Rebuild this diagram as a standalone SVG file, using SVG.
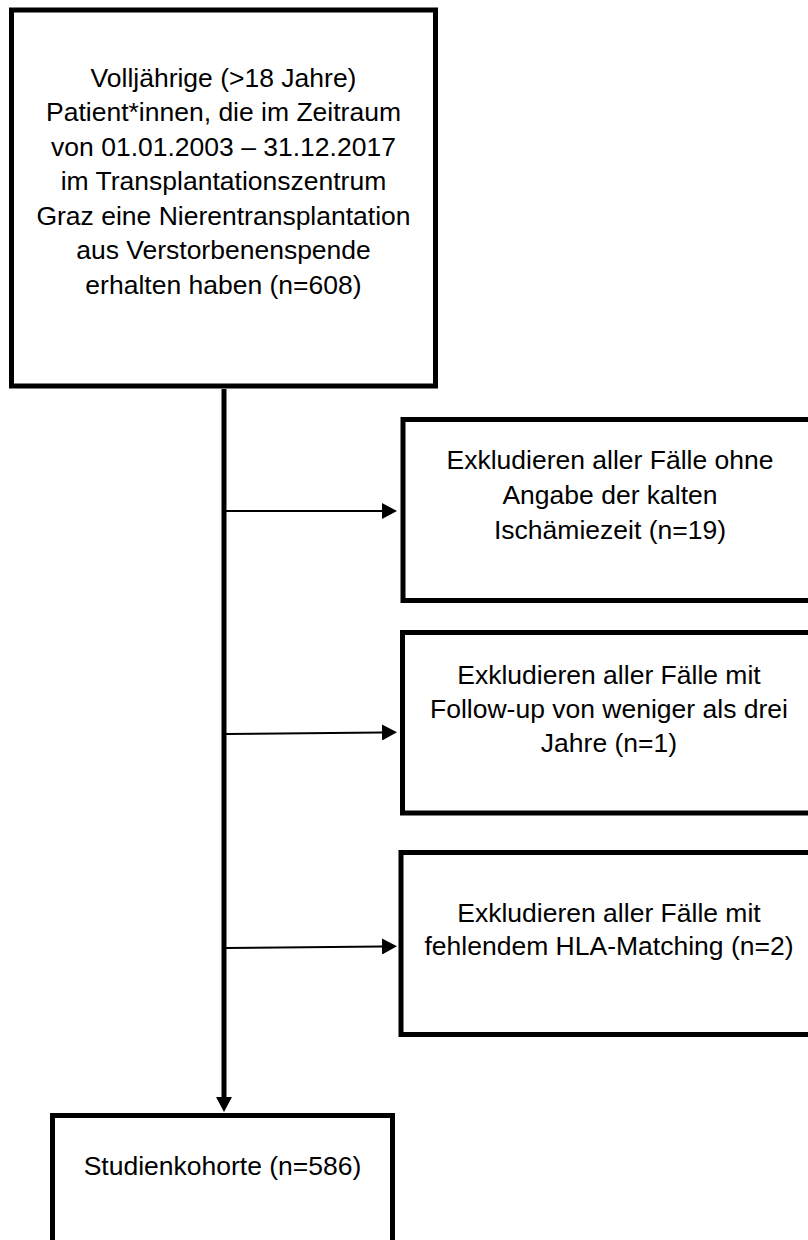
<svg xmlns="http://www.w3.org/2000/svg" width="808" height="1240" viewBox="0 0 808 1240">
<defs>
<style>
.box{fill:#ffffff;stroke:#000000;stroke-width:5}
.t{font-family:"Liberation Sans",Arial,sans-serif;font-size:26.5px;fill:#000000;text-anchor:middle}
.main{stroke:#000000;stroke-width:5;fill:none}
.branch{stroke:#000000;stroke-width:2;fill:none}
</style>
<marker id="ah" markerUnits="userSpaceOnUse" viewBox="0 0 15 16" refX="0" refY="8" markerWidth="15" markerHeight="16" orient="auto">
<path d="M0,0 L15,8 L0,16 Z" fill="#000000"/>
</marker>
</defs>
<rect width="808" height="1240" fill="#ffffff"/>
<g id="connectors">
<path class="main" d="M224,389 L224,1097" marker-end="url(#ah)"/>
<path class="branch" d="M226,511 L382,511" marker-end="url(#ah)"/>
<path class="branch" d="M226,734 L382,732.5" marker-end="url(#ah)"/>
<path class="branch" d="M226,948 L382,946.5" marker-end="url(#ah)"/>
</g>
<g id="node-start">
<rect class="box" x="11.5" y="10" width="424" height="376"/>
<text class="t" x="223.5" y="87">Volljährige (&gt;18 Jahre)</text>
<text class="t" x="223.5" y="121">Patient*innen, die im Zeitraum</text>
<text class="t" x="223.5" y="156">von 01.01.2003 – 31.12.2017</text>
<text class="t" x="223.5" y="190">im Transplantationszentrum</text>
<text class="t" x="223.5" y="225">Graz eine Nierentransplantation</text>
<text class="t" x="223.5" y="259">aus Verstorbenenspende</text>
<text class="t" x="223.5" y="294">erhalten haben (n=608)</text>
</g>
<g id="node-excl1">
<rect class="box" x="403" y="419.5" width="413" height="181"/>
<text class="t" x="610" y="469">Exkludieren aller Fälle ohne</text>
<text class="t" x="610" y="504">Angabe der kalten</text>
<text class="t" x="610" y="539">Ischämiezeit (n=19)</text>
</g>
<g id="node-excl2">
<rect class="box" x="402.5" y="632.5" width="413" height="180.5"/>
<text class="t" x="609" y="684">Exkludieren aller Fälle mit</text>
<text class="t" x="609" y="718">Follow-up von weniger als drei</text>
<text class="t" x="609" y="752">Jahre (n=1)</text>
</g>
<g id="node-excl3">
<rect class="box" x="401" y="852.5" width="415" height="182"/>
<text class="t" x="609" y="922">Exkludieren aller Fälle mit</text>
<text class="t" x="609" y="955">fehlendem HLA-Matching (n=2)</text>
</g>
<g id="node-cohort">
<rect class="box" x="52.5" y="1115.5" width="340" height="140"/>
<text class="t" x="222.5" y="1175">Studienkohorte (n=586)</text>
</g>
</svg>
